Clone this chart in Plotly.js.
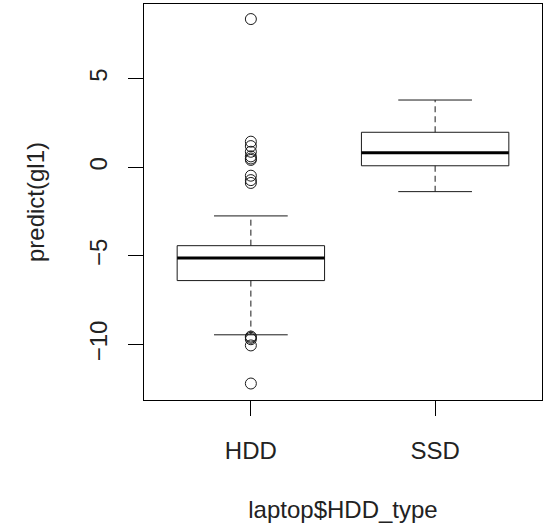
<!DOCTYPE html>
<html>
<head>
<meta charset="utf-8">
<script src="https://cdn.plot.ly/plotly-3.0.1.min.js"></script>
<style>html,body{margin:0;padding:0;background:#fff;}#chart{width:544px;height:526px;}</style>
</head>
<body>
<div id="chart"></div>
<script>
// ---- data ----
const categories = ['HDD', 'SSD'];
const lowerWhisker = [-9.45, -1.37];
const q1 = [-6.39, 0.09];
const median = [-5.11, 0.82];
const q3 = [-4.42, 1.98];
const upperWhisker = [-2.74, 3.80];
const hddOutliers = [8.37, 1.45, 1.2, 0.88, 0.62, 0.5, 0.42, -0.47, -0.72, -0.88, -9.55, -9.62, -9.7, -10.05, -12.2];
const ssdOutliers = [];
const xTitle = 'laptop$HDD_type';
const yTitle = 'predict(gl1)';

const outliers = [hddOutliers, ssdOutliers];
const boxHalf = 0.4, capHalf = 0.2;
const ink = '#1a1a1a';
const traces = [];
categories.forEach((c, k) => {
  const i = k + 1;
  // box
  traces.push({type: 'scatter', mode: 'lines', hoverinfo: 'skip',
    x: [i - boxHalf, i + boxHalf, i + boxHalf, i - boxHalf, i - boxHalf],
    y: [q1[k], q1[k], q3[k], q3[k], q1[k]],
    line: {color: ink, width: 1}});
  // median
  traces.push({type: 'scatter', mode: 'lines', hoverinfo: 'skip',
    x: [i - boxHalf, i + boxHalf], y: [median[k], median[k]],
    line: {color: '#000', width: 3}});
  // whiskers (dashed)
  traces.push({type: 'scatter', mode: 'lines', hoverinfo: 'skip',
    x: [i, i, null, i, i], y: [q3[k], upperWhisker[k], null, q1[k], lowerWhisker[k]],
    line: {color: ink, width: 1, dash: '6px,4px'}});
  // caps
  traces.push({type: 'scatter', mode: 'lines', hoverinfo: 'skip',
    x: [i - capHalf, i + capHalf, null, i - capHalf, i + capHalf],
    y: [upperWhisker[k], upperWhisker[k], null, lowerWhisker[k], lowerWhisker[k]],
    line: {color: ink, width: 1}});
  // outliers
  traces.push({type: 'scatter', mode: 'markers', hoverinfo: 'skip',
    x: outliers[k].map(() => i), y: outliers[k],
    marker: {symbol: 'circle-open', size: 11, color: ink, line: {width: 1, color: ink}}});
});

const font = {family: 'Liberation Sans, Arial, sans-serif', size: 24, color: '#222'};
const layout = {
  width: 544, height: 526,
  margin: {l: 144, r: 2, t: 4, b: 126},
  showlegend: false,
  paper_bgcolor: '#fff', plot_bgcolor: '#fff',
  font: font,
  xaxis: {range: [0.42, 2.58], tickvals: [1, 2], ticktext: categories,
    showgrid: false, zeroline: false, showline: true, mirror: true,
    linecolor: '#000', linewidth: 1, ticks: 'outside', ticklen: 15, tickcolor: '#000',
    ticklabelstandoff: 14,
    title: {text: xTitle, font: font, standoff: 38}},
  yaxis: {range: [-13.13, 9.22], tickvals: [-10, -5, 0, 5],
    showgrid: false, zeroline: false, showline: true, mirror: true,
    linecolor: '#000', linewidth: 1, ticks: 'outside', ticklen: 15, tickcolor: '#000',
    tickangle: -90, ticklabelstandoff: 11,
    title: {text: yTitle, font: font, standoff: 34}}
};
Plotly.newPlot('chart', traces, layout, {staticPlot: true, displayModeBar: false});
</script>
</body>
</html>
